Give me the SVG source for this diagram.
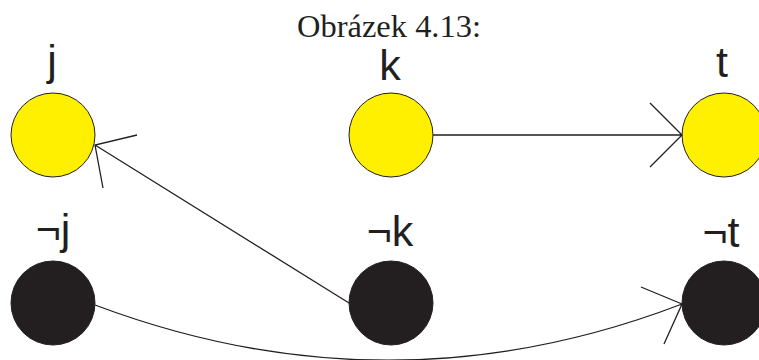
<svg xmlns="http://www.w3.org/2000/svg" width="759" height="360" viewBox="0 0 759 360">
<style>
.lbl{font-family:"Liberation Sans",Arial,sans-serif;font-size:43px;fill:#231f20;text-anchor:middle}
.title{font-family:"Liberation Serif","Times New Roman",serif;font-size:32px;fill:#231f20}
.yel{fill:#fff000;stroke:#231f20;stroke-width:1}
.blk{fill:#231f20;stroke:#231f20;stroke-width:1}
.edge{fill:none;stroke:#231f20;stroke-width:1.3}
</style>
<rect width="759" height="360" fill="#ffffff"/>
<text class="title" x="297" y="37" textLength="184" lengthAdjust="spacingAndGlyphs">Obrázek 4.13:</text>
<g id="j"><circle class="yel" cx="53" cy="135" r="42"/><text class="lbl" x="52" y="75">j</text></g>
<g id="k"><circle class="yel" cx="391" cy="135" r="42"/><text class="lbl" x="390" y="80">k</text></g>
<g id="t"><circle class="yel" cx="724" cy="135" r="42"/><text class="lbl" x="722" y="77">t</text></g>
<g id="not-j"><circle class="blk" cx="53" cy="303" r="42"/><text class="lbl" x="53" y="244">¬j</text></g>
<g id="not-k"><circle class="blk" cx="391" cy="303" r="42"/><text class="lbl" x="390" y="246">¬k</text></g>
<g id="not-t"><circle class="blk" cx="724" cy="303" r="42"/><text class="lbl" x="721" y="247">¬t</text></g>
<g id="connectors">
<path class="edge" d="M433,135 L682,135 M650,103 L682,135 L650,167"/>
<path class="edge" d="M349,303 L95,145 M137,135 L95,145 L103,188"/>
<path class="edge" d="M95,305 Q390,416 682,304 M641,287 L682,304 L664,344"/>
</g>
</svg>
